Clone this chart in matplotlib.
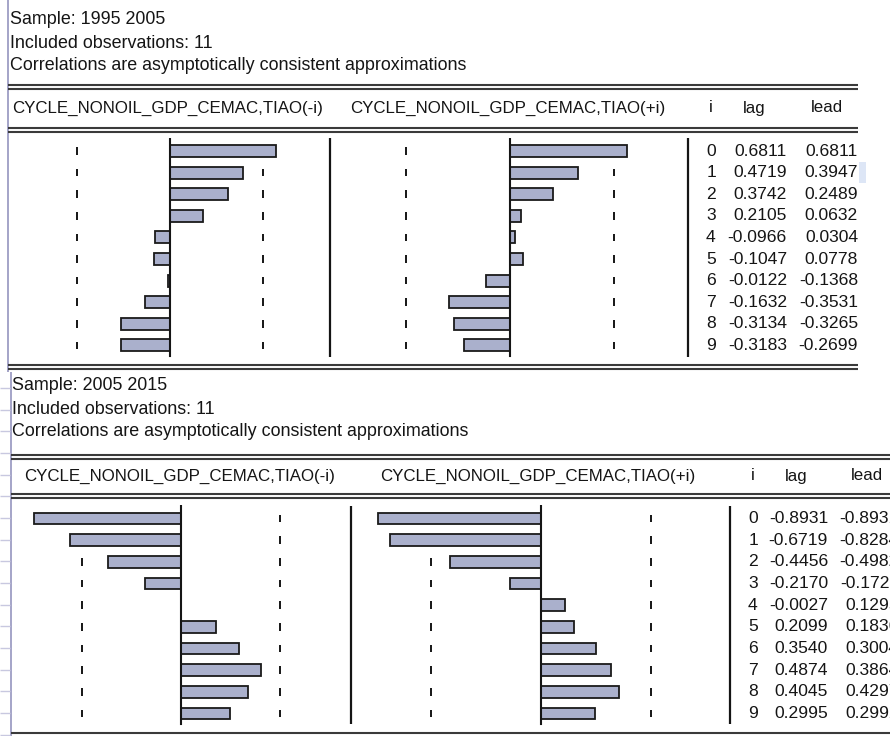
import numpy as np
import matplotlib
matplotlib.use("Agg")
import matplotlib.pyplot as plt

plt.rcParams['font.family'] = ['Liberation Sans', 'DejaVu Sans']

# cross-correlations, 10 lags, two sub-samples
lags = list(range(10))
n_obs = 11

sample_a = "1995 2005"
lag_a = [0.6811, 0.4719, 0.3742, 0.2105, -0.0966, -0.1047, -0.0122, -0.1632, -0.3134, -0.3183]
lead_a = [0.6811, 0.3947, 0.2489, 0.0632, 0.0304, 0.0778, -0.1368, -0.3531, -0.3265, -0.2699]

sample_b = "2005 2015"
lag_b = [-0.8931, -0.6719, -0.4456, -0.2170, -0.0027, 0.2099, 0.3540, 0.4874, 0.4045, 0.2995]
lead_b = [-0.8931, -0.8284, -0.4982, -0.1723, 0.1295, 0.1836, 0.3004, 0.3864, 0.4297, 0.2992]

left_title = "CYCLE_NONOIL_GDP_CEMAC,TIAO(-i)"
right_title = "CYCLE_NONOIL_GDP_CEMAC,TIAO(+i)"

W, H = 890, 736
FS = 12.6       # table numbers
FS_INFO = 12.9  # sample / observation lines
FS_HDR = 12.2   # column headers
BAR = '#aab0cc'
INK = '#151515'
LINE = '#3a3a3a'
EDGE = '#a4a4c8'

fig = plt.figure(figsize=(W / 100, H / 100), dpi=100)
base = fig.add_axes([0, 0, 1, 1])
base.set_xlim(0, W)
base.set_ylim(H, 0)
base.axis('off')


def hline(y, x0, x1, lw=1.5, color=LINE):
    base.plot([x0, x1], [y, y], color=color, lw=lw, solid_capstyle='butt')


def vline(x, y0, y1, lw=1.5, color=LINE):
    base.plot([x, x], [y0, y1], color=color, lw=lw, solid_capstyle='butt')


def panel(x0, x1, zero, scale, row0, step, values):
    # axes in pixel space; rows run top to bottom
    top = row0 - 0.6 * step
    bot = row0 + 9.6 * step
    ax = fig.add_axes([x0 / W, 1 - bot / H, (x1 - x0) / W, (bot - top) / H])
    ax.set_xlim((x0 - zero) / scale, (x1 - zero) / scale)
    ax.set_ylim(9.6, -0.6)
    ax.axis('off')
    band = 2 / np.sqrt(n_obs)
    for k in lags:
        ax.vlines([-band, band], k - 0.18, k + 0.18, colors=INK, lw=1.4, zorder=1)
    ax.barh(lags, values, height=0.55, color=BAR, edgecolor='#1a1a1a', lw=1.3, zorder=2)
    ax.axvline(0, ymin=0.01, ymax=1.0, color=INK, lw=1.5, zorder=3)
    return ax


def block(y_info, x_info, sample, y_hdr, hdr_x, y_rows, row_step, panels, seps,
          sep_span, tab_x, lagv, leadv, x_end, lines_y):
    base.text(x_info, y_info, f"Sample: {sample}", fontsize=FS_INFO, color=INK, va='center')
    base.text(x_info, y_info + 23, f"Included observations: {n_obs}", fontsize=FS_INFO,
              color=INK, va='center')
    base.text(x_info, y_info + 45, "Correlations are asymptotically consistent approximations",
              fontsize=FS_INFO, color=INK, va='center')

    x_start = lines_y[0]
    for y in lines_y[1]:
        hline(y, x_start, x_end)
        hline(y + 4, x_start, x_end)

    base.text(hdr_x[0], y_hdr, left_title, fontsize=FS_HDR, color=INK, va='center')
    base.text(hdr_x[1], y_hdr, right_title, fontsize=FS_HDR, color=INK, va='center')
    base.text(tab_x[0], y_hdr, "i", fontsize=FS_HDR, color=INK, va='center', ha='center')
    base.text(tab_x[3], y_hdr, "lag", fontsize=FS_HDR, color=INK, va='center', ha='center')
    base.text(tab_x[4], y_hdr, "lead", fontsize=FS_HDR, color=INK, va='center', ha='center')

    for (x0, x1, zero, scale), vals in zip(panels, (lagv, leadv)):
        panel(x0, x1, zero, scale, y_rows, row_step, vals)
    for x in seps:
        vline(x, sep_span[0], sep_span[1], lw=1.6, color=INK)

    for k in lags:
        y = y_rows + k * row_step
        base.text(tab_x[0], y, str(k), fontsize=FS, color=INK, va='center', ha='center')
        base.text(tab_x[1], y, f"{lagv[k]:.4f}", fontsize=FS, color=INK, va='center', ha='right')
        base.text(tab_x[2], y, f"{leadv[k]:.4f}", fontsize=FS, color=INK, va='center', ha='right')


# window edges
vline(8, 0, 372, lw=1.4, color=EDGE)
vline(10.5, 372, H, lw=1.4, color=EDGE)
for y in np.arange(388, H, 21.67):
    hline(y, 0, 10, lw=1.0, color='#c8c8e0')

# selected cell highlight
base.add_patch(plt.Rectangle((859, 162), 7, 21, color='#dde6f6', lw=0))

block(y_info=20, x_info=10, sample=sample_a, y_hdr=108, hdr_x=(12, 350),
      y_rows=151, row_step=21.6,
      panels=[(10, 330, 170, 155), (330, 688, 510, 172)],
      seps=[330, 688], sep_span=(138, 357),
      tab_x=(711, 787, 858, 754, 827), lagv=lag_a, leadv=lead_a,
      x_end=858, lines_y=(8, [85, 128, 365]))

block(y_info=386, x_info=12, sample=sample_b, y_hdr=476, hdr_x=(24, 380),
      y_rows=518.5, row_step=21.67,
      panels=[(12, 351, 181, 164.5), (351, 730, 541, 182)],
      seps=[351, 730], sep_span=(506, 724),
      tab_x=(753, 828, 899, 796, 867), lagv=lag_b, leadv=lead_b,
      x_end=W, lines_y=(11, [455, 494]))
hline(733, 11, W)

fig.savefig("out.png", dpi=100)
